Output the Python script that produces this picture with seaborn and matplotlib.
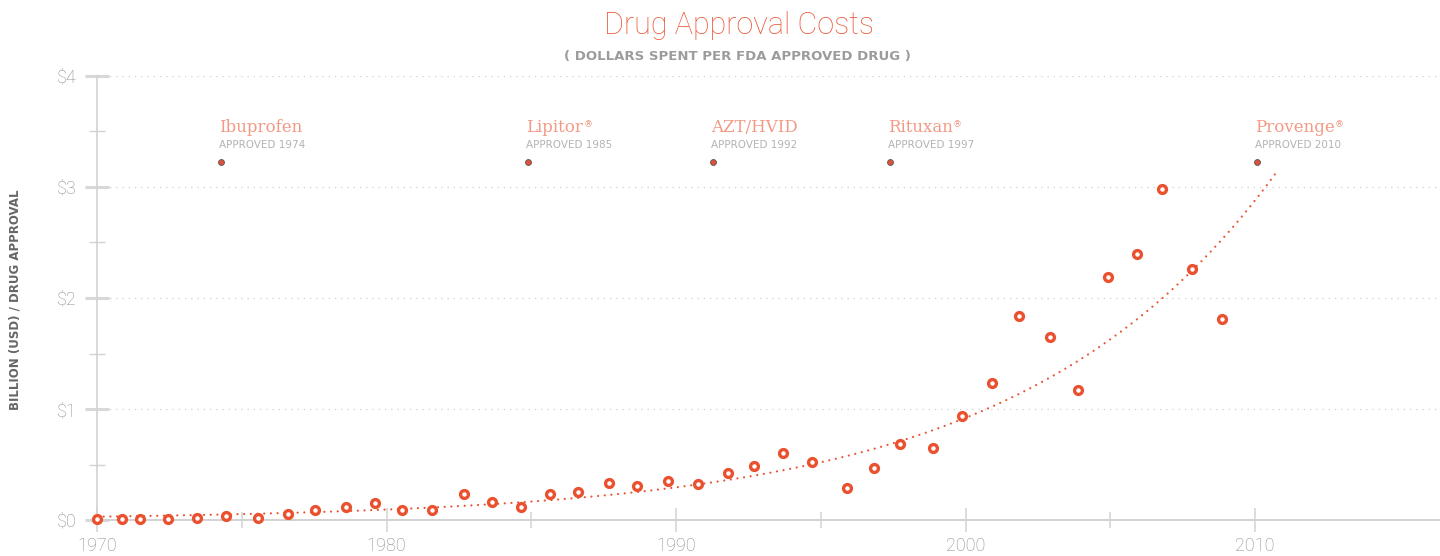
import numpy as np
import pandas as pd
import matplotlib
matplotlib.use("Agg")
import matplotlib.pyplot as plt
from matplotlib.ticker import MultipleLocator, FixedLocator
import seaborn as sns

# data (billion USD per approved drug)
years = [1970.0, 1970.85, 1971.49, 1972.45, 1973.44, 1974.46, 1975.55, 1976.59, 1977.54, 1978.59,
         1979.59, 1980.54, 1981.57, 1982.69, 1983.65, 1984.66, 1985.66, 1986.6, 1987.69, 1988.66,
         1989.73, 1990.76, 1991.79, 1992.69, 1993.71, 1994.69, 1995.89, 1996.83, 1997.75, 1998.89,
         1999.87, 2000.93, 2001.86, 2002.92, 2003.88, 2004.93, 2005.92, 2006.8, 2007.81, 2008.86]
cost = [0.005, 0.005, 0.005, 0.01, 0.016, 0.04, 0.02, 0.05, 0.09, 0.115,
        0.155, 0.09, 0.09, 0.23, 0.16, 0.12, 0.23, 0.255, 0.33, 0.305,
        0.355, 0.32, 0.42, 0.49, 0.60, 0.52, 0.29, 0.47, 0.685, 0.65,
        0.935, 1.23, 1.835, 1.65, 1.175, 2.19, 2.395, 2.985, 2.26, 1.815]

# exponential trend, start / end
trend_years = [1970.0, 2010.76]
trend_values = [0.03, 3.14]

# approved drugs shown on top
drug_names = ["Ibuprofen", "Lipitor", "AZT/HVID", "Rituxan", "Provenge"]
drug_registered = [False, True, False, True, True]
drug_approved = [1974, 1985, 1992, 1997, 2010]
drug_marker_x = [1974.28, 1984.9, 1991.28, 1997.4, 2010.07]
drug_marker_y = 3.225

ytick_vals = [0, 1, 2, 3, 4]
ytick_labels = ["$0", "$1", "$2", "$3", "$4"]
xtick_vals = [1970, 1980, 1990, 2000, 2010]
xtick_minor = [1975, 1985, 1995, 2005]

RED = "#E9512F"
SALMON = "#F29A86"
GREY_TXT = "#8a8a8a"
GREY_LINE = "#d2d2d2"

sns.set_theme(style="white")
plt.rcParams["font.family"] = ["Roboto", "DejaVu Sans"]

df = pd.DataFrame({"year": years, "cost": cost})

fig = plt.figure(figsize=(14.4, 5.56), dpi=100)
ax = fig.add_axes([97 / 1440, 36 / 556, 1343 / 1440, 444 / 556])

# trend line
t0, t1 = trend_years
v0, v1 = trend_values
tt = np.linspace(t0, t1, 300)
trend = pd.DataFrame({"year": tt, "cost": v0 * (v1 / v0) ** ((tt - t0) / (t1 - t0))})
sns.lineplot(data=trend, x="year", y="cost", ax=ax, color=RED, lw=1.6,
             linestyle=(0, (0.01, 3.0)), dash_capstyle="round", zorder=3)

# points
sns.scatterplot(data=df, x="year", y="cost", ax=ax, s=32, color="white",
                edgecolor=RED, linewidth=2.4, zorder=5, clip_on=False)

# drug annotations
sns.scatterplot(x=drug_marker_x, y=[drug_marker_y] * len(drug_marker_x), ax=ax, s=18,
                color="#E0503A", edgecolor="#555555", linewidth=0.6, zorder=5)
for name, reg, yr, mx in zip(drug_names, drug_registered, drug_approved, drug_marker_x):
    t = ax.annotate(name, xy=(mx, drug_marker_y), xytext=(-2, 30), textcoords="offset pixels",
                    ha="left", va="baseline", fontsize=12, color=SALMON,
                    family=["DejaVu Serif"])
    if reg:
        ax.annotate("®", xy=(1, 1), xycoords=t, xytext=(1, -1), textcoords="offset pixels",
                    ha="left", va="top", fontsize=6.5, color=SALMON)
    ax.annotate(f"APPROVED {yr}", xy=(mx, drug_marker_y), xytext=(-2, 14),
                textcoords="offset pixels", ha="left", va="baseline", fontsize=7.5,
                color="#b3b3b3", family=["DejaVu Sans"])

ax.set_xlim(1970, 1970 + 1343 / 28.95)
ax.set_ylim(0, 4)

# axes styling
for s in ["top", "right"]:
    ax.spines[s].set_visible(False)
ax.spines["left"].set_color(GREY_LINE)
ax.spines["left"].set_linewidth(1.2)
ax.spines["bottom"].set_color(GREY_LINE)
ax.spines["bottom"].set_linewidth(1.4)

ax.set_yticks(ytick_vals)
ax.set_yticklabels(ytick_labels)
ax.yaxis.set_minor_locator(MultipleLocator(0.5))
ax.set_xticks(xtick_vals)
ax.set_xticklabels([str(x) for x in xtick_vals])
ax.xaxis.set_minor_locator(FixedLocator(xtick_minor))

ax.tick_params(axis="y", which="major", direction="inout", length=17, width=2.2,
               color="#d8d8d8", labelsize=13, labelcolor=GREY_TXT, pad=6, left=True)
ax.tick_params(axis="y", which="minor", direction="inout", length=12, width=1,
               color=GREY_LINE, left=True)
ax.tick_params(axis="x", which="major", direction="inout", length=17, width=1.1,
               color=GREY_LINE, labelsize=13, labelcolor=GREY_TXT, pad=4, bottom=True)
ax.tick_params(axis="x", which="minor", direction="inout", length=11, width=1.1,
               color=GREY_LINE, bottom=True)
for lab in ax.get_xticklabels() + ax.get_yticklabels():
    lab.set_fontweight("light")

ax.grid(axis="y", which="major", color="#cfcfcf", lw=0.9, linestyle=(0, (1, 4)))
ax.grid(axis="x", visible=False)
ax.set_xlabel("")
ax.set_ylabel("")

# titles
fig.text(0.513, 1 - 34 / 556, "Drug Approval Costs", ha="center", va="baseline",
         fontsize=22, color="#EB5A3C", fontweight="light")
fig.text(0.512, 1 - 60 / 556, "( DOLLARS SPENT PER FDA APPROVED DRUG )", ha="center",
         va="baseline", fontsize=9.5, color="#9c9c9c", fontweight="bold",
         family=["DejaVu Sans"])
fig.text(0.0105, 0.46, "BILLION (USD) / DRUG APPROVAL", ha="center", va="center",
         rotation=90, fontsize=8.5, color="#666666", fontweight="bold",
         family=["DejaVu Sans"])

fig.savefig("out.png", dpi=100, facecolor="white")
